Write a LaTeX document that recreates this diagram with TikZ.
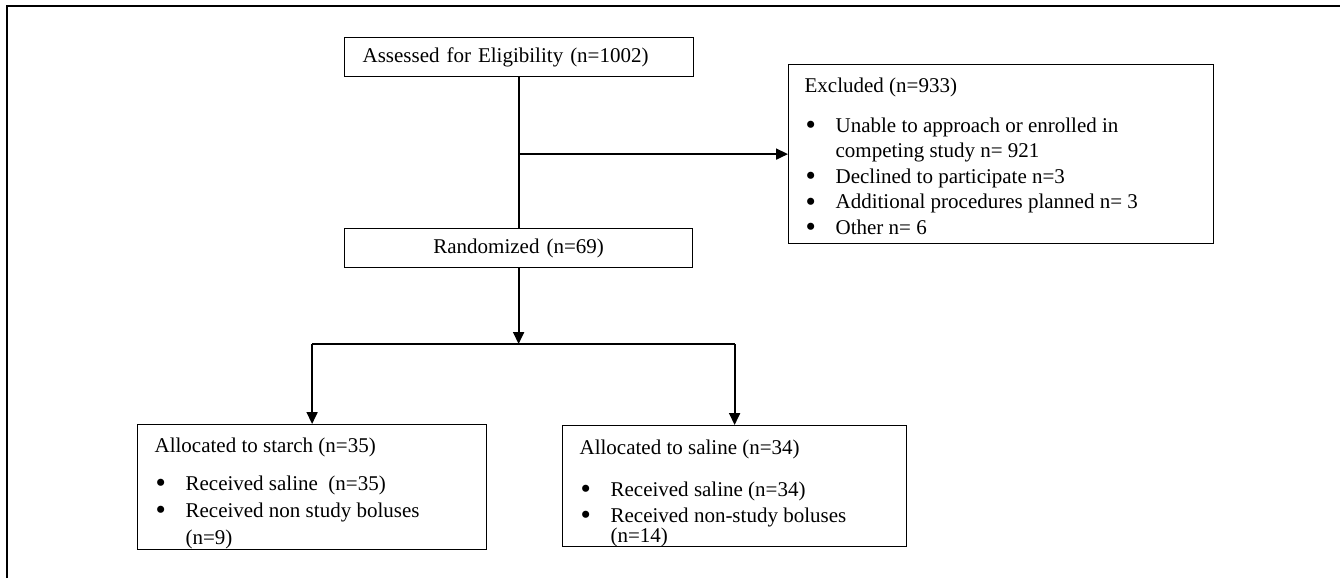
\documentclass[tikz,border=0pt]{standalone}
\usepackage{fontspec}
\usepackage{graphicx}
\setmainfont{Liberation Serif}
\usetikzlibrary{arrows.meta, positioning, calc}

% bullet line with hanging indent
\newcommand{\litem}[1]{\par\hangindent=31pt\hangafter=1\noindent\makebox[31pt][l]{\hspace{1pt}\raisebox{-0.12em}{\scalebox{1.4}{\textbullet}}}#1}

\tikzset{
    flowbox/.style={draw, line width=1.2pt, font=\fontsize{21pt}{26pt}\selectfont, anchor=north west, inner ysep=0pt},
    flowline/.style={line width=1.8pt},
    flowarrow/.style={flowline, -{Triangle[length=12pt, width=11pt]}}
}

\begin{document}
\begin{tikzpicture}[x=1pt, y=-1pt]
        \useasboundingbox (0,0) rectangle (1340,578);
        % outer frame
        \draw[line width=1.2pt] (7,578) -- (7,6) -- (1340,6);

        \node[flowbox, minimum width=349pt, minimum height=39pt, text width=313pt, inner xsep=18pt, align=left] (assessed) at (344,37) {Assessed for Eligibility (n=1002)};
        \node[flowbox, minimum width=348pt, minimum height=39pt, text width=312pt, inner xsep=18pt, align=center] (randomized) at (344,228) {Randomized (n=69)};

        \node[flowbox, inner xsep=16pt] (excluded) at (788,64) {
            \begin{minipage}[c][179pt][t]{393pt}
                \baselineskip=25.5pt
                \rule{0pt}{27.5pt}Excluded (n=933)\par\vspace{14.5pt}
                \litem{Unable to approach or enrolled in\\ competing study n= 921}
                \litem{Declined to participate n=3}
                \litem{Additional procedures planned n= 3}
                \litem{Other n= 6}
            \end{minipage}
        };

        \node[flowbox, inner xsep=17pt] (starch) at (137,424) {
            \begin{minipage}[c][125pt][t]{315pt}
                \baselineskip=27pt
                \rule{0pt}{27.5pt}Allocated to starch (n=35)\par\vspace{11pt}
                \litem{Received saline~ (n=35)}
                \litem{Received non study boluses\\ (n=9)}
            \end{minipage}
        };

        \node[flowbox, inner xsep=17pt] (saline) at (562,425) {
            \begin{minipage}[c][121pt][t]{310pt}
                \baselineskip=26pt
                \rule{0pt}{28.5pt}Allocated to saline (n=34)\par\vspace{16pt}
                \litem{Received saline (n=34)}
                \litem{Received non-study boluses\\[-6pt] (n=14)}
            \end{minipage}
        };

        % connectors
        \draw[flowline] (assessed.south) -- (assessed.south |- randomized.north);
        \draw[flowarrow] (assessed.south |- excluded.west) -- (excluded.west);
        \coordinate (split) at (518,344);
        \draw[flowarrow] (randomized.south) -- (randomized.south |- split);
        \draw[flowline] (starch.north |- split) -- (saline.north |- split);
        \draw[flowarrow] (starch.north |- split) -- (starch.north);
        \draw[flowarrow] (saline.north |- split) -- (saline.north);
    \end{tikzpicture}
\end{document}
